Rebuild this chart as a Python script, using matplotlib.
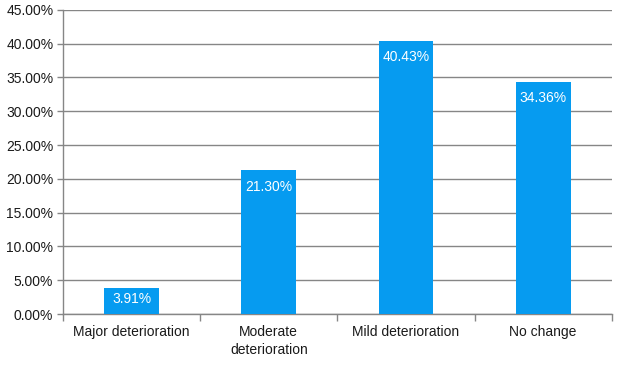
import numpy as np
import matplotlib
matplotlib.use("Agg")
import matplotlib.pyplot as plt
from matplotlib.ticker import FuncFormatter, FixedLocator

categories = ["Major deterioration", "Moderate\ndeterioration", "Mild deterioration", "No change"]
values = [3.91, 21.30, 40.43, 34.36]

plt.rcParams['font.family'] = ['Liberation Sans', 'DejaVu Sans']

fig = plt.figure(figsize=(6.3, 3.66), dpi=100)
ax = fig.add_axes([0.1, 0.142, 0.871, 0.831])

x = np.arange(len(categories))
bar_color = '#069BF0'
grid_color = '#868686'
ymax = 45

ax.bar(x, values, width=0.4, color=bar_color, zorder=3)

# label sits near the top of the bar, or in the middle when the bar is short
ax_h_pt = 0.831 * 3.66 * 72
for xi, v in zip(x, values):
    bar_pt = v / ymax * ax_h_pt
    off = -12 if bar_pt > 26 else -bar_pt / 2 + 1
    ax.annotate("%.2f%%" % v, (xi, v), xytext=(0, off), textcoords='offset points',
                ha='center', va='center', color='white', fontsize=10, zorder=4)

ax.set_xlim(-0.5, len(categories) - 0.5)
ax.set_ylim(0, ymax)
ax.set_yticks(np.arange(0, 46, 5))
ax.yaxis.set_major_formatter(FuncFormatter(lambda v, p: "%.2f%%" % v))
ax.yaxis.grid(True, color=grid_color, linewidth=1, zorder=0)

ax.set_xticks(x)
ax.set_xticklabels(categories, fontsize=10, color='#1a1a1a', linespacing=1.35)
ax.tick_params(axis='x', length=0, pad=8)
ax.xaxis.set_minor_locator(FixedLocator(np.arange(-0.5, len(categories), 1)))
ax.tick_params(axis='x', which='minor', length=5, color=grid_color, width=1)
ax.tick_params(axis='y', length=4, color=grid_color, width=1, labelsize=10, labelcolor='#1a1a1a', pad=3)

for side in ['top', 'right']:
    ax.spines[side].set_visible(False)
for side in ['left', 'bottom']:
    ax.spines[side].set_color(grid_color)
    ax.spines[side].set_linewidth(1)

fig.savefig("out.png", dpi=100)
